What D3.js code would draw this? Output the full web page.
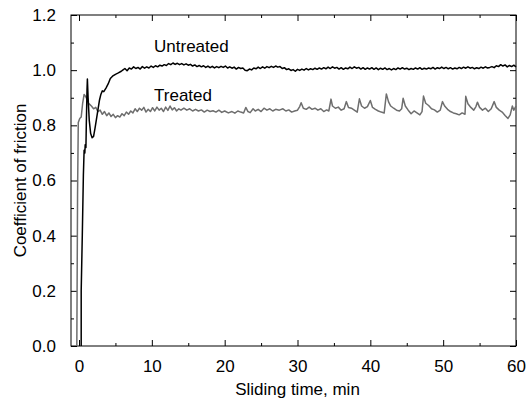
<!DOCTYPE html>
<html lang="en">
<head>
    <meta charset="UTF-8">
    <title>Coefficient of friction</title>
    <script src="https://d3js.org/d3.v7.min.js"></script>
    <style>
        body { margin: 0; background: #fff; }
        text { font-family: "Liberation Sans", Arial, sans-serif; fill: #000; }
        .curve { fill: none; stroke-linejoin: round; }
    </style>
</head>
<body>
<script>
    // Axis ticks
    const xTicks = [0, 10, 20, 30, 40, 50, 60];
    const yTicks = [0.0, 0.2, 0.4, 0.6, 0.8, 1.0, 1.2];

    // Untreated sample: [time (min), coefficient]
    const untreated = [
        [0.3,0],[0.3,0.2],[0.45,0.4],[0.6,0.62],[0.7,0.71],[0.8,0.7],[0.85,0.73],[0.95,0.72],[1.0,0.8],[1.1,0.93],
        [1.15,0.968],[1.25,0.9],[1.4,0.82],[1.6,0.77],[1.8,0.755],[2.0,0.76],[2.2,0.79],[2.5,0.84],[2.8,0.89],[3.0,0.912],
        [3.2,0.925],[3.4,0.922],[3.7,0.935],[4.0,0.95],[4.3,0.97],[4.6,0.978],[5.0,0.985],[5.4,0.99],[5.8,0.996],
        [6.0,1.0],[6.3,1.006],[6.6,0.998],[6.9,1.008],[7.2,1.004],[7.5,1.012],[7.8,1.006],[8.1,1.01],[8.4,1.004],[8.7,1.013],
        [9.0,1.007],[9.3,1.012],[9.6,1.008],[9.9,1.015],[10.2,1.01],[10.5,1.016],[10.8,1.012],[11.1,1.018],[11.4,1.015],[11.7,1.02],
        [12.0,1.017],[12.3,1.024],[12.6,1.02],[12.9,1.026],[13.2,1.021],[13.5,1.025],[13.8,1.02],[14.1,1.024],[14.4,1.019],[14.7,1.023],
        [15.0,1.018],[15.3,1.021],[15.6,1.015],[15.9,1.019],[16.2,1.013],[16.5,1.017],[16.8,1.012],[17.1,1.016],[17.4,1.01],[17.7,1.015],
        [18.0,1.009],[18.3,1.014],[18.6,1.008],[18.9,1.013],[19.2,1.009],[19.5,1.014],[19.8,1.01],[20.1,1.015],[20.4,1.008],[20.7,1.012],
        [21.0,1.007],[21.3,1.011],[21.6,1.004],[21.9,1.01],[22.2,1.006],[22.5,1.008],[22.8,1.0],[23.1,0.998],[23.4,1.004],[23.7,1.001],
        [24.0,1.008],[24.3,1.005],[24.6,1.011],[24.9,1.006],[25.2,1.012],[25.5,1.007],[25.8,1.013],[26.1,1.009],[26.4,1.014],[26.7,1.01],
        [27.0,1.015],[27.3,1.011],[27.6,1.013],[27.9,1.006],[28.2,1.009],[28.5,1.002],[28.8,1.005],[29.1,0.999],[29.4,1.002],[29.7,0.996],
        [30.0,1.003],[30.3,0.999],[30.6,1.004],[30.9,1.0],[31.2,1.006],[31.5,1.001],[31.8,1.005],[32.1,1.002],[32.4,1.007],[32.7,1.003],
        [33.0,1.008],[33.3,1.004],[33.6,1.009],[33.9,1.005],[34.2,1.011],[34.5,1.006],[34.8,1.012],[35.1,1.007],[35.4,1.01],[35.7,1.004],
        [36.0,1.009],[36.3,1.003],[36.6,1.008],[36.9,1.005],[37.2,1.011],[37.5,1.006],[37.8,1.012],[38.1,1.007],[38.4,1.01],[38.7,1.004],
        [39.0,1.009],[39.3,1.003],[39.6,1.008],[39.9,1.004],[40.2,1.009],[40.5,1.003],[40.8,1.008],[41.1,1.002],[41.4,1.007],[41.7,1.003],
        [42.0,1.008],[42.3,1.002],[42.6,1.006],[42.9,1.001],[43.2,1.006],[43.5,1.002],[43.8,1.008],[44.1,1.004],[44.4,1.009],[44.7,1.004],
        [45.0,1.007],[45.3,1.002],[45.6,1.006],[45.9,1.003],[46.2,1.008],[46.5,1.004],[46.8,1.009],[47.1,1.003],[47.4,1.007],[47.7,1.004],
        [48.0,1.008],[48.3,1.005],[48.6,1.01],[48.9,1.004],[49.2,1.009],[49.5,1.006],[49.8,1.011],[50.1,1.006],[50.4,1.01],[50.7,1.005],
        [51.0,1.009],[51.3,1.004],[51.6,1.008],[51.9,1.005],[52.2,1.01],[52.5,1.006],[52.8,1.011],[53.1,1.007],[53.4,1.012],[53.7,1.007],
        [54.0,1.01],[54.3,1.005],[54.6,1.009],[54.9,1.006],[55.2,1.011],[55.5,1.007],[55.8,1.012],[56.1,1.008],[56.4,1.01],[56.7,1.013],
        [57.0,1.009],[57.3,1.016],[57.6,1.013],[57.9,1.02],[58.2,1.015],[58.5,1.019],[58.8,1.012],[59.1,1.017],[59.4,1.013],[59.7,1.018],
        [60.0,1.012]
    ];

    // Treated sample
    const treated = [
        [-0.3,0],[-0.2,0.55],[-0.1,0.81],[0.1,0.825],[0.3,0.83],[0.5,0.88],[0.7,0.912],[0.9,0.905],[1.1,0.895],[1.3,0.88],
        [1.5,0.875],[1.7,0.87],[2.0,0.86],[2.3,0.865],[2.6,0.85],[2.9,0.855],[3.2,0.84],[3.5,0.85],[3.8,0.835],[4.1,0.845],
        [4.4,0.832],[4.7,0.84],[5.0,0.828],[5.3,0.835],[5.6,0.83],[5.9,0.842],[6.2,0.835],[6.5,0.848],[6.8,0.84],[7.1,0.852],
        [7.4,0.845],[7.7,0.86],[8.0,0.85],[8.3,0.862],[8.6,0.855],[8.9,0.865],[9.2,0.848],[9.5,0.858],[9.8,0.85],[10.1,0.864],
        [10.4,0.852],[10.7,0.866],[11.0,0.855],[11.3,0.862],[11.6,0.85],[11.9,0.866],[12.2,0.854],[12.5,0.87],[12.8,0.856],[13.1,0.864],
        [13.4,0.852],[13.7,0.86],[14.0,0.855],[14.4,0.862],[14.8,0.855],[15.2,0.86],[15.6,0.852],[16.0,0.858],[16.4,0.852],[16.8,0.856],
        [17.2,0.848],[17.6,0.855],[18.0,0.85],[18.4,0.853],[18.8,0.848],[19.2,0.855],[19.6,0.847],[20.0,0.852],[20.5,0.845],[21.0,0.85],
        [21.4,0.844],[21.8,0.852],[22.2,0.848],[22.6,0.845],[22.9,0.865],[23.2,0.85],[23.5,0.846],[23.9,0.86],[24.2,0.852],[24.6,0.858],
        [25.0,0.85],[25.4,0.862],[25.8,0.855],[26.2,0.86],[26.6,0.852],[27.0,0.858],[27.5,0.855],[28.0,0.86],[28.4,0.852],[28.8,0.856],
        [29.2,0.848],[29.6,0.852],[30.0,0.855],[30.3,0.868],[30.5,0.882],[30.8,0.862],[31.2,0.858],[31.6,0.866],[32.0,0.858],[32.4,0.862],
        [32.8,0.855],[33.2,0.86],[33.6,0.85],[34.0,0.856],[34.3,0.852],[34.6,0.895],[34.8,0.87],[35.2,0.862],[35.6,0.866],[36.0,0.855],
        [36.4,0.86],[36.7,0.886],[37.0,0.865],[37.4,0.862],[37.8,0.855],[38.2,0.848],[38.5,0.896],[38.8,0.87],[39.2,0.862],[39.6,0.868],
        [40.0,0.89],[40.3,0.865],[40.7,0.858],[41.1,0.852],[41.5,0.848],[41.9,0.845],[42.2,0.914],[42.5,0.885],[42.8,0.87],[43.2,0.862],
        [43.6,0.855],[44.0,0.852],[44.3,0.86],[44.5,0.898],[44.8,0.87],[45.2,0.855],[45.6,0.842],[46.0,0.852],[46.4,0.845],[46.8,0.838],
        [47.1,0.85],[47.3,0.906],[47.6,0.88],[48.0,0.872],[48.4,0.86],[48.8,0.856],[49.2,0.848],[49.6,0.855],[49.9,0.886],[50.2,0.87],
        [50.6,0.858],[51.0,0.85],[51.4,0.845],[51.8,0.842],[52.2,0.838],[52.6,0.845],[53.0,0.84],[53.1,0.905],[53.4,0.878],[53.8,0.865],
        [54.2,0.855],[54.5,0.868],[54.7,0.884],[55.0,0.865],[55.4,0.855],[55.8,0.862],[56.2,0.85],[56.6,0.86],[57.0,0.886],[57.3,0.865],
        [57.7,0.855],[58.1,0.848],[58.5,0.836],[58.9,0.825],[59.2,0.838],[59.5,0.87],[59.7,0.855],[60.0,0.87]
    ];

    const width = 528, height = 403;
    const margin = { top: 15, right: 12, bottom: 57, left: 71 };
    const innerW = width - margin.left - margin.right;
    const innerH = height - margin.top - margin.bottom;
    const fontSize = 17;

    const svg = d3.select("body").append("svg")
        .attr("width", width)
        .attr("height", height);

    const g = svg.append("g")
        .attr("transform", `translate(${margin.left},${margin.top})`);

    const x = d3.scaleLinear().domain([-1.1, 60]).range([0, innerW]);
    const y = d3.scaleLinear().domain([0, 1.2]).range([innerH, 0]);

    // minor tick positions
    const xMinor = d3.range(5, 60, 10);
    const yMinor = d3.range(0.1, 1.2, 0.2);

    // axes with inward ticks
    const bottom = g.append("g").attr("transform", `translate(0,${innerH})`)
        .call(d3.axisBottom(x).tickValues(xTicks).tickSize(-6).tickPadding(14).tickFormat(d3.format("d")));
    g.append("g").attr("transform", `translate(0,${innerH})`)
        .call(d3.axisBottom(x).tickValues(xMinor).tickSize(-3).tickFormat(""));
    const left = g.append("g")
        .call(d3.axisLeft(y).tickValues(yTicks).tickSize(-6).tickPadding(15).tickFormat(d3.format(".1f")));
    g.append("g")
        .call(d3.axisLeft(y).tickValues(yMinor).tickSize(-3).tickFormat(""));
    g.append("g")
        .call(d3.axisTop(x).tickValues(xTicks).tickSize(-6).tickFormat(""));
    g.append("g")
        .call(d3.axisTop(x).tickValues(xMinor).tickSize(-3).tickFormat(""));
    g.append("g").attr("transform", `translate(${innerW},0)`)
        .call(d3.axisRight(y).tickValues(yTicks).tickSize(-6).tickFormat(""));
    g.append("g").attr("transform", `translate(${innerW},0)`)
        .call(d3.axisRight(y).tickValues(yMinor).tickSize(-3).tickFormat(""));

    g.selectAll(".domain").remove();
    g.selectAll(".tick line").attr("stroke", "#000");
    bottom.selectAll("text").attr("font-size", fontSize).attr("font-family", "Liberation Sans, Arial, sans-serif");
    left.selectAll("text").attr("font-size", fontSize).attr("font-family", "Liberation Sans, Arial, sans-serif");

    // frame
    g.append("rect")
        .attr("width", innerW).attr("height", innerH)
        .attr("fill", "none").attr("stroke", "#000").attr("stroke-width", 1);

    const line = d3.line().x(d => x(d[0])).y(d => y(d[1]));

    g.append("path").datum(treated)
        .attr("class", "curve")
        .attr("stroke", "#6e6e6e").attr("stroke-width", 1.5)
        .attr("d", line);

    g.append("path").datum(untreated)
        .attr("class", "curve")
        .attr("stroke", "#000").attr("stroke-width", 1.5)
        .attr("d", line);

    // curve labels
    g.append("text").attr("x", x(10.3)).attr("y", y(1.065))
        .attr("font-size", fontSize).text("Untreated");
    g.append("text").attr("x", x(10.3)).attr("y", y(0.888))
        .attr("font-size", fontSize).text("Treated");

    // axis titles
    svg.append("text")
        .attr("x", margin.left + x(30)).attr("y", 395)
        .attr("text-anchor", "middle").attr("font-size", fontSize)
        .text("Sliding time, min");
    svg.append("text")
        .attr("transform", `translate(26,${margin.top + innerH / 2}) rotate(-90)`)
        .attr("text-anchor", "middle").attr("font-size", fontSize)
        .text("Coefficient of friction");
</script>
</body>
</html>
